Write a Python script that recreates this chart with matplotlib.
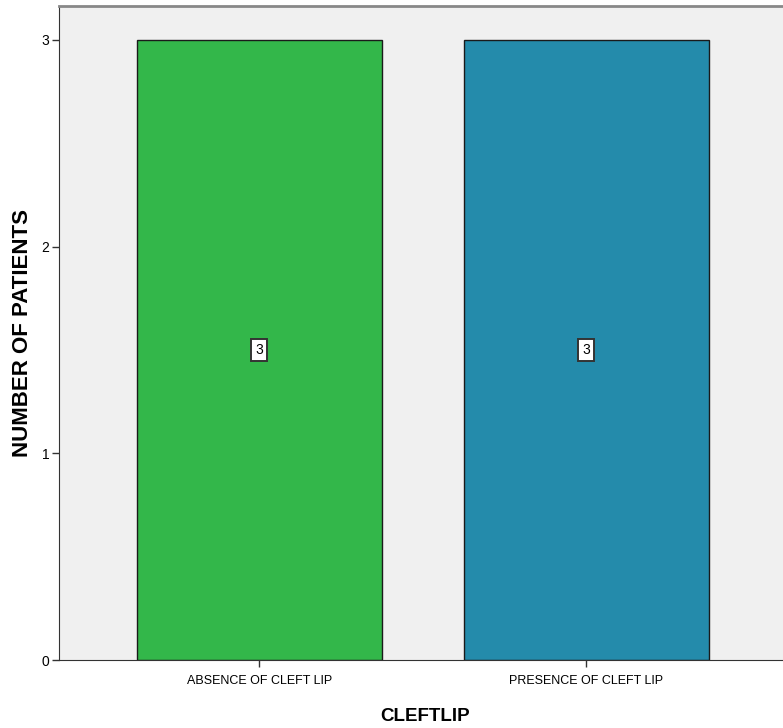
import matplotlib
matplotlib.use("Agg")
import matplotlib.pyplot as plt

categories = ["ABSENCE OF CLEFT LIP", "PRESENCE OF CLEFT LIP"]
counts = [3, 3]
colors = ["#33b74a", "#248bab"]
yticks = [0, 1, 2, 3]

fig = plt.figure(figsize=(7.83, 7.28), dpi=100)
ax = fig.add_axes([59/783, 1-660/728, 1-59/783+0.01, (660-6)/728])
ax.set_facecolor("#f0f0f0")
x = list(range(len(categories)))
ax.bar(x, counts, width=0.75, color=colors, edgecolor="#1a1a1a", linewidth=1.0, zorder=2)
for xi, c in zip(x, counts):
    ax.text(xi, c/2, str(c), ha="center", va="center", fontsize=10, family="Liberation Sans",
            bbox=dict(boxstyle="square,pad=0.3", facecolor="white", edgecolor="#333333", linewidth=1.4), zorder=3)
ax.set_xlim(-0.613, 1.625)
ax.set_ylim(0, 3.164)
ax.set_xticks(x)
ax.set_xticklabels(categories, fontsize=9, family="Liberation Sans")
ax.set_yticks(yticks)
ax.set_yticklabels([str(t) for t in yticks], fontsize=10, family="Liberation Sans")
ax.tick_params(axis="x", length=5, width=1, color="#333333", pad=6)
ax.tick_params(axis="y", length=5, width=1, color="#333333", pad=2)
ax.spines["right"].set_visible(False)
ax.spines["top"].set_color("#888888")
ax.spines["top"].set_linewidth(2)
ax.spines["left"].set_color("#333333")
ax.spines["bottom"].set_color("#333333")
ax.set_xlabel("CLEFTLIP", fontsize=13.5, fontweight="bold", family="Liberation Sans", labelpad=15)
ax.set_ylabel("NUMBER OF PATIENTS", fontsize=16, fontweight="bold", family="Liberation Sans", labelpad=6)
fig.savefig("out.png", dpi=100)
